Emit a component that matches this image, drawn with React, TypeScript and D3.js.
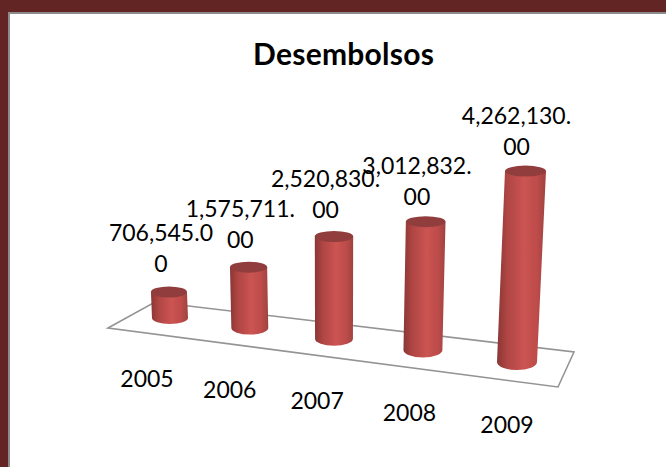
import React from "react";
import * as d3 from "d3";

const categories = ["2005", "2006", "2007", "2008", "2009"];
const values = [706545, 1575711, 2520830, 3012832, 4262130];
const wrapAt = [9, 10, 10, 10, 10];
const title = "Desembolsos";

const W = 666, H = 467;
const fmt = d3.format(",.2f");

// Perspective of the floor: position along the category axis -> screen
const depth = d3.scalePoint<string>().domain(categories).range([0, 1]);
const warp = (t: number) => t / (t + 1.116 * (1 - t));
const xBase = d3.scaleLinear().domain([0, 1]).range([170, 517]);
const yBase = d3.scaleLinear().domain([0, 1]).range([318, 362]);
const unit = d3.scaleLinear().domain([0, 1]).range([36.8e-6, 44.8e-6]);
const rxTop = d3.scaleLinear().domain([0, 1]).range([18, 20.5]);
const rxBot = d3.scaleLinear().domain([0, 1]).range([18, 20]);
const ryBot = d3.scaleLinear().domain([0, 1]).range([6, 8]);
const lean = d3.scaleLinear().domain([170, 334, 517]).range([-0.04, 0, 0.0445]);
const labelDx = d3.scaleLinear().domain([0, 1]).range([-8, -9]);
const labelDy = d3.scaleLinear().domain([0, 1]).range([-20, -16]);
const yearDx = d3.scaleLinear().domain([0, 1]).range([-23, -10]);
const yearDy = d3.scaleLinear().domain([0, 1]).range([69, 71]);

const floor: [number, number][] = [[108, 328], [155, 302], [574, 352], [558, 387]];
const floorLine = d3.line().curve(d3.curveLinearClosed);

export default function App() {
  const bars = categories.map((c, i) => {
    const t = warp(depth(c) as number);
    const xb = xBase(t), yb = yBase(t);
    const h = values[i] * unit(t);
    const xt = xb + lean(xb) * h, yt = yb - h;
    const rt = rxTop(t), rb = rxBot(t), ry = ryBot(t);
    const side = `M${xt - rt},${yt} L${xb - rb},${yb} A${rb},${ry} 0 0 0 ${xb + rb},${yb} L${xt + rt},${yt} Z`;
    const s = fmt(values[i]);
    return { c, i, t, xb, yb, xt, yt, rt, side, line1: s.slice(0, wrapAt[i]), line2: s.slice(wrapAt[i]) };
  });
  const font = "Lato, Carlito, sans-serif";
  return (
    <svg width={W} height={H} style={{ position: "absolute", left: 0, top: 0, background: "#fff" }}>
      <defs>
        <linearGradient id="cyl" x1="0" x2="1" y1="0" y2="0">
          <stop offset="0" stopColor="#8a3634" />
          <stop offset="0.2" stopColor="#ae4543" />
          <stop offset="0.55" stopColor="#cb5452" />
          <stop offset="0.82" stopColor="#bd4c4a" />
          <stop offset="1" stopColor="#9e4240" />
        </linearGradient>
        <filter id="soft" x="-10%" y="-10%" width="120%" height="120%">
          <feGaussianBlur stdDeviation="0.5" />
        </filter>
      </defs>
      <rect x={0} y={0} width={W} height={12} fill="#632523" />
      <rect x={0} y={0} width={8} height={H} fill="#632523" />
      <rect x={8} y={12} width={W - 8} height={2} fill="#8c8c8c" />
      <rect x={8} y={12} width={2} height={H - 12} fill="#8c8c8c" />

      <text x={343.5} y={65} textAnchor="middle" fontFamily={font} fontWeight={700} fontSize={30} textLength={181} lengthAdjust="spacing" fill="#000">{title}</text>

      <path d={floorLine(floor) as string} fill="none" stroke="#949494" strokeWidth={1.6} />

      {bars.map((b) => (
        <g key={b.c} filter="url(#soft)">
          <path d={b.side} fill="url(#cyl)" />
          <ellipse cx={b.xt} cy={b.yt} rx={b.rt} ry={5.5} fill="#923e3c" />
        </g>
      ))}

      {bars.map((b) => (
        <g key={b.c + "l"} fontFamily={font} fontSize={23} fill="#000" textAnchor="middle">
          <text x={b.xt + labelDx(b.t)} y={b.yt + labelDy(b.t) - 31}>{b.line1}</text>
          <text x={b.xt + labelDx(b.t)} y={b.yt + labelDy(b.t)}>{b.line2}</text>
          <text x={b.xb + yearDx(b.t)} y={b.yb + yearDy(b.t)}>{b.c}</text>
        </g>
      ))}
    </svg>
  );
}
